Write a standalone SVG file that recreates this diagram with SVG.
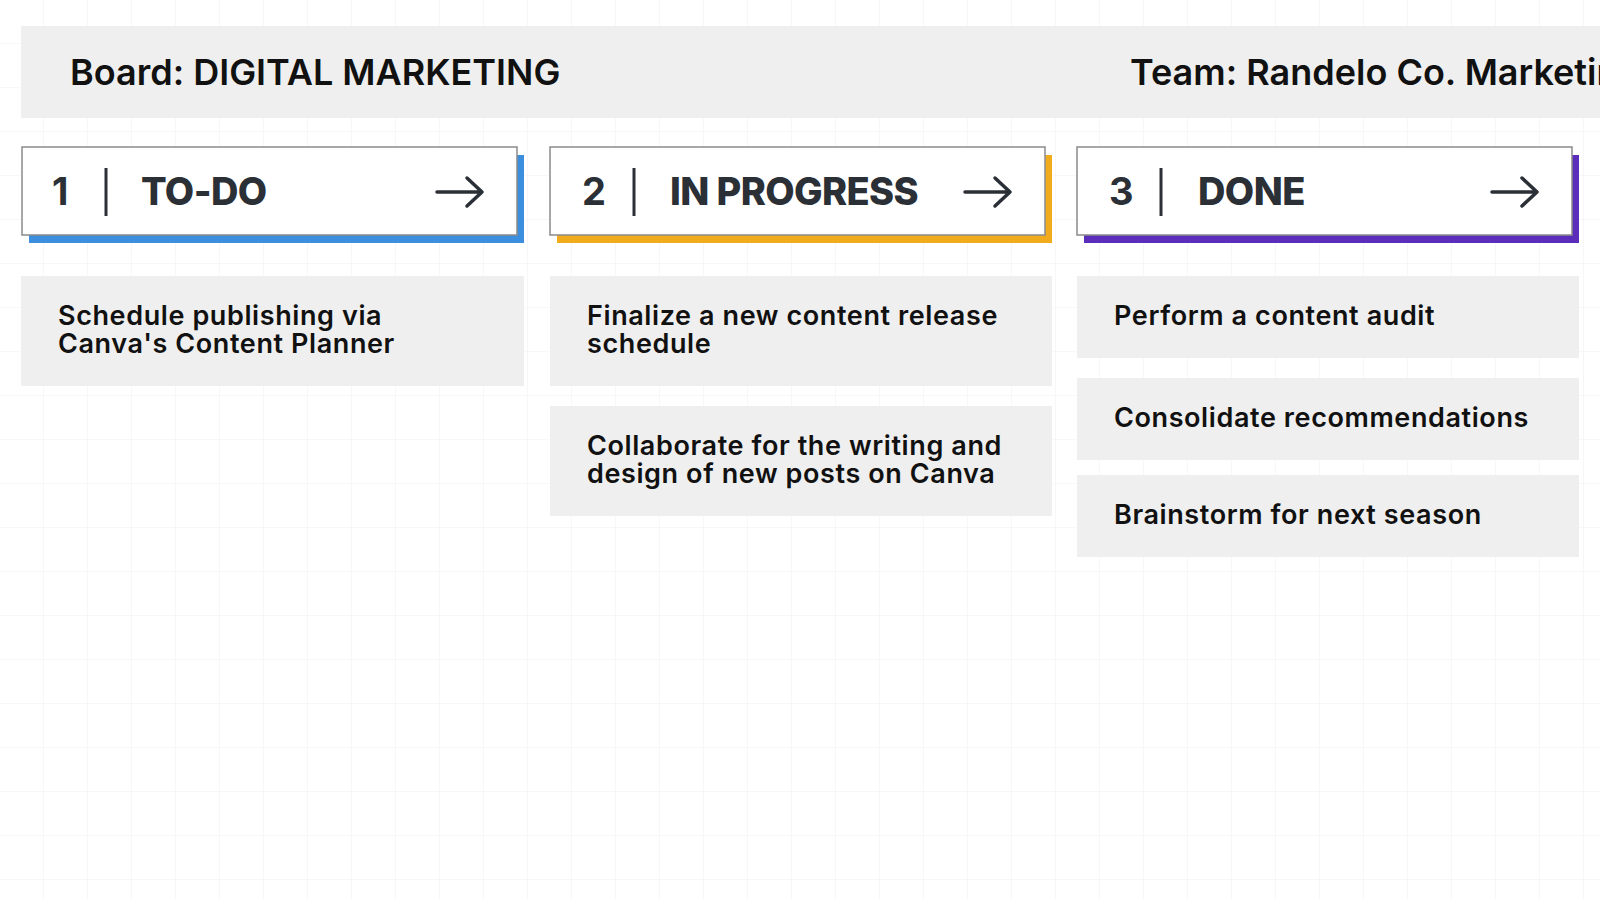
<svg xmlns="http://www.w3.org/2000/svg" width="1600" height="900" viewBox="0 0 1600 900">
<defs>
<pattern id="grid" width="44" height="44" patternUnits="userSpaceOnUse"><path d="M44 0V44H0" fill="none" stroke="#f2f2f2" stroke-width="1.2"/></pattern>
<style>
.hdr{fill:#fff;stroke:#8a8a8a;stroke-width:1.5}
.num{font-family:Inter,"Liberation Sans",sans-serif;font-weight:700;font-size:38px;fill:#2b2f36}
.ttl{font-family:Inter,"Liberation Sans",sans-serif;font-weight:800;font-size:38px;fill:#2b2f36;letter-spacing:-0.6px}
.div{stroke:#2b2f36;stroke-width:3}
.arr{fill:none;stroke:#2b2f36;stroke-width:3.5;stroke-linecap:round;stroke-linejoin:round}
.card{fill:#efefef}
.ct{font-family:Inter,"Liberation Sans",sans-serif;font-weight:600;font-size:27px;fill:#111;letter-spacing:0.6px}
.band{font-family:Inter,"Liberation Sans",sans-serif;font-weight:600;font-size:36px;fill:#111}
</style>
</defs>
<rect width="1600" height="900" fill="#fff"/>
<rect width="1600" height="900" fill="url(#grid)"/>
<g id="header">
<rect x="21" y="26" width="1579" height="92" fill="#efefef"/>
<text class="band" x="70" y="85">Board: DIGITAL MARKETING</text>
<text class="band" x="1130" y="85">Team: Randelo Co. Marketing</text>
</g>
<g id="col-todo">
<rect x="29" y="155" width="495" height="88" fill="#3b8fde"/>
<rect class="hdr" x="22" y="147" width="495" height="88"/>
<text class="num" x="52" y="205">1</text>
<line class="div" x1="106" y1="168" x2="106" y2="216"/>
<text class="ttl" x="141" y="205">TO-DO</text>
<path class="arr" d="M437 192H482M467 178L482 192L467 206"/>
</g>
<g id="col-progress">
<rect x="557" y="155" width="495" height="88" fill="#f0ac1c"/>
<rect class="hdr" x="550" y="147" width="495" height="88"/>
<text class="num" x="582" y="205">2</text>
<line class="div" x1="634" y1="168" x2="634" y2="216"/>
<text class="ttl" x="670" y="205">IN PROGRESS</text>
<path class="arr" d="M965 192H1010M995 178L1010 192L995 206"/>
</g>
<g id="col-done">
<rect x="1084" y="155" width="495" height="88" fill="#5a2dba"/>
<rect class="hdr" x="1077" y="147" width="495" height="88"/>
<text class="num" x="1109" y="205">3</text>
<line class="div" x1="1161" y1="168" x2="1161" y2="216"/>
<text class="ttl" x="1198" y="205">DONE</text>
<path class="arr" d="M1492 192H1537M1522 178L1537 192L1522 206"/>
</g>
<g id="card-1">
<rect class="card" x="21" y="276" width="503" height="110"/>
<text class="ct" x="58" y="325">Schedule publishing via</text>
<text class="ct" x="58" y="353">Canva's Content Planner</text>
</g>
<g id="card-2">
<rect class="card" x="550" y="276" width="502" height="110"/>
<text class="ct" x="587" y="325">Finalize a new content release</text>
<text class="ct" x="587" y="353">schedule</text>
</g>
<g id="card-3">
<rect class="card" x="550" y="406" width="502" height="110"/>
<text class="ct" x="587" y="455">Collaborate for the writing and</text>
<text class="ct" x="587" y="483">design of new posts on Canva</text>
</g>
<g id="card-4">
<rect class="card" x="1077" y="276" width="502" height="82"/>
<text class="ct" x="1114" y="325">Perform a content audit</text>
</g>
<g id="card-5">
<rect class="card" x="1077" y="378" width="502" height="82"/>
<text class="ct" x="1114" y="427">Consolidate recommendations</text>
</g>
<g id="card-6">
<rect class="card" x="1077" y="475" width="502" height="82"/>
<text class="ct" x="1114" y="524">Brainstorm for next season</text>
</g>
<g id="connectors"/>
</svg>
